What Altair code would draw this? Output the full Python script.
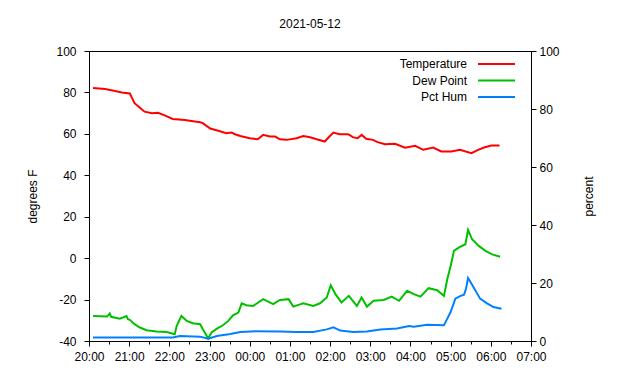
import altair as alt
import pandas as pd

TITLE = "2021-05-12"
FONT = "Liberation Sans"

# Temperature (degrees F)
temp_times = ["20:06", "20:24", "20:39", "20:49", "21:01", "21:04", "21:08", "21:16", "21:23", "21:34",
              "21:43", "21:53", "22:05", "22:23", "22:33", "22:46", "22:50", "23:01", "23:13", "23:25",
              "23:33", "23:38", "23:46", "00:00", "00:12", "00:20", "00:30", "00:38", "00:45", "00:55",
              "01:10", "01:20", "01:30", "01:40", "01:52", "01:59", "02:05", "02:14", "02:27", "02:34",
              "02:41", "02:47", "02:54", "03:04", "03:11", "03:22", "03:37", "03:52", "04:07", "04:19",
              "04:34", "04:46", "05:01", "05:14", "05:31", "05:41", "05:51", "06:01", "06:13"]
temp_vals = [82.1, 81.6, 80.7, 80.0, 79.5, 77.5, 74.8, 72.6, 70.7, 70.0,
             70.2, 68.9, 67.2, 66.7, 66.2, 65.6, 65.2, 62.6, 61.5, 60.3,
             60.6, 59.8, 59.0, 57.9, 57.4, 59.5, 58.7, 58.7, 57.4, 57.1,
             57.9, 59.0, 58.4, 57.4, 56.3, 58.7, 60.6, 59.8, 59.8, 58.4,
             57.9, 59.5, 57.6, 57.1, 56.0, 55.0, 55.2, 53.3, 54.2, 52.3,
             53.4, 51.5, 51.5, 52.3, 50.7, 52.3, 53.5, 54.4, 54.4]

# Dew point (degrees F)
dew_times = ["20:06", "20:27", "20:31", "20:33", "20:46", "20:56", "20:58", "21:01", "21:08", "21:16",
             "21:26", "21:41", "21:56", "22:08", "22:11", "22:18", "22:26", "22:35", "22:46", "22:50",
             "22:58", "23:03", "23:11", "23:20", "23:28", "23:35", "23:43", "23:48", "23:55", "00:05",
             "00:20", "00:35", "00:45", "00:58", "01:05", "01:20", "01:35", "01:45", "01:55", "02:01",
             "02:08", "02:17", "02:28", "02:40", "02:47", "02:55", "03:05", "03:20", "03:32", "03:43",
             "03:55", "04:05", "04:15", "04:27", "04:40", "04:47", "04:50", "04:55", "05:00", "05:05",
             "05:12", "05:22", "05:26", "05:32", "05:42", "05:52", "06:02", "06:14"]
dew_vals = [-27.9, -28.2, -26.7, -28.3, -29.2, -28.0, -29.5, -29.8, -31.9, -33.5,
            -34.8, -35.4, -35.7, -36.7, -32.7, -27.9, -30.3, -31.4, -31.9, -34.3,
            -38.8, -35.9, -34.0, -32.4, -30.3, -27.6, -26.3, -21.8, -22.7, -23.1,
            -19.8, -22.2, -20.2, -19.8, -23.4, -21.8, -23.1, -21.8, -19.0, -13.1,
            -17.4, -21.4, -18.2, -23.1, -19.0, -23.4, -20.6, -20.2, -18.6, -20.6,
            -15.8, -17.4, -18.6, -14.5, -15.5, -17.4, -18.2, -10.2, -3.8, 3.5,
            5.1, 6.7, 13.6, 9.1, 5.9, 3.5, 1.8, 0.7]

# Relative humidity (percent)
hum_times = ["20:06", "22:05", "22:16", "22:46", "22:58", "23:11", "23:31", "23:46", "00:10", "00:45",
             "01:10", "01:35", "01:55", "02:05", "02:15", "02:35", "02:55", "03:15", "03:40", "03:58",
             "04:05", "04:25", "04:50", "04:55", "05:00", "05:07", "05:14", "05:20", "05:23", "05:26",
             "05:34", "05:44", "05:55", "06:04", "06:16"]
hum_vals = [1.2, 1.2, 1.7, 1.5, 0.8, 1.7, 2.4, 3.1, 3.4, 3.3,
            3.1, 3.1, 4.0, 4.7, 3.6, 3.1, 3.3, 4.0, 4.3, 5.2,
            4.9, 5.6, 5.4, 7.7, 10.0, 14.6, 15.5, 16.0, 18.0, 21.7,
            18.6, 14.6, 12.9, 11.7, 11.1]

series_names = ["Temperature", "Dew Point", "Pct Hum"]
series_colors = ["#ff0000", "#00c000", "#0080ff"]
left_ticks = [-40, -20, 0, 20, 40, 60, 80, 100]
right_ticks = [0, 20, 40, 60, 80, 100]


def to_dt(t):
    h, m = map(int, t.split(":"))
    day = 12 if h >= 20 else 13
    return pd.Timestamp(2021, 5, day, h, m)


left_df = pd.concat([
    pd.DataFrame({"time": [to_dt(t) for t in temp_times], "value": temp_vals, "series": "Temperature"}),
    pd.DataFrame({"time": [to_dt(t) for t in dew_times], "value": dew_vals, "series": "Dew Point"}),
])
hum_df = pd.DataFrame({"time": [to_dt(t) for t in hum_times], "pct": hum_vals})

# x axis tick values every 30 minutes (labels only on the hour)
tick_vals = []
for i in range(23):
    hh = (20 + i // 2) % 24
    day = 12 if (20 + i // 2) < 24 else 13
    tick_vals.append(alt.DateTime(year=2021, month=5, date=day, hours=hh, minutes=30 * (i % 2)))

x_scale = alt.Scale(domain=[alt.DateTime(year=2021, month=5, date=12, hours=20),
                            alt.DateTime(year=2021, month=5, date=13, hours=7)])
x_axis = alt.Axis(values=tick_vals, title=None, grid=False,
                  labelExpr="minutes(datum.value) == 0 ? timeFormat(datum.value, '%H:%M') : ''",
                  labelOverlap=False, labelPadding=5, labelFlush=False,
                  tickSize={"condition": {"test": "minutes(datum.value) == 0", "value": 5}, "value": 3})

x_enc = alt.X("time:T", scale=x_scale, axis=x_axis)

left = alt.Chart(left_df).mark_line(strokeWidth=2, interpolate="linear").encode(
    x=x_enc,
    y=alt.Y("value:Q", scale=alt.Scale(domain=[-40, 100], nice=False),
            axis=alt.Axis(values=left_ticks, title="degrees F", grid=False, tickSize=5,
                          labelExpr="'' + datum.value",
                          labelPadding=8, titlePadding=16)),
    color=alt.Color("series:N", scale=alt.Scale(domain=series_names[:2], range=series_colors[:2]),
                    legend=None),
    detail="series:N",
)

right = alt.Chart(hum_df).mark_line(strokeWidth=2, color=series_colors[2]).encode(
    x=x_enc,
    y=alt.Y("pct:Q", scale=alt.Scale(domain=[0, 100], nice=False),
            axis=alt.Axis(values=right_ticks, title="percent", orient="right", grid=False, tickSize=5,
                          labelPadding=3, titlePadding=36, titleAngle=270)),
)

# gnuplot-style key (text right-aligned, line sample to the right)
one = pd.DataFrame({"k": [0]})
legend_layers = []
for i, (name, col) in enumerate(zip(series_names, series_colors)):
    yy = 13 + i * 16.5
    legend_layers.append(alt.Chart(one).mark_text(align="right", baseline="middle", font=FONT,
                                                  fontSize=12, color="black").encode(
        x=alt.value(378), y=alt.value(yy), text=alt.value(name)))
    legend_layers.append(alt.Chart(one).mark_rule(strokeWidth=2, color=col).encode(
        x=alt.value(389), x2=alt.value(426), y=alt.value(yy)))

chart = alt.layer(alt.layer(left), right, *legend_layers).resolve_scale(
    y="independent"
).properties(
    width=442, height=290,
    title=alt.TitleParams(TITLE, anchor="middle", fontSize=12, fontWeight="normal", font=FONT,
                          color="black", offset=14),
    autosize=alt.AutoSizeParams(type="none"),
    padding={"left": 81, "top": 43, "right": 95, "bottom": 25},
).configure_view(
    stroke="black", strokeWidth=1
).configure_axis(
    labelFont=FONT, labelFontSize=12, labelColor="black",
    titleFont=FONT, titleFontSize=12, titleFontWeight="normal", titleColor="black",
    domainColor="black", tickColor="black", domainWidth=1, tickWidth=1,
)

chart.save("out.html", embed_options={"renderer": "svg", "actions": False})
